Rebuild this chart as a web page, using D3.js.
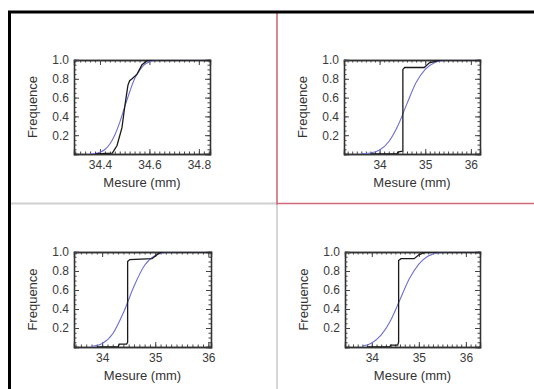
<!DOCTYPE html>
<html>
<head>
<meta charset="utf-8">
<script src="https://cdn.jsdelivr.net/npm/d3@7"></script>
<style>
  html, body { margin: 0; padding: 0; background: #fff; }
  svg text { font-family: "Liberation Sans", Arial, sans-serif; }
</style>
</head>
<body>
<div id="chart"></div>
<script>
// x domains of the four panels (mm)
const xDomains = [[34.295, 34.845], [33.22, 36.2], [33.47, 36.05], [33.43, 36.3]];
const xMajorTicks = [[34.4, 34.6, 34.8], [34, 35, 36], [34, 35, 36], [34, 35, 36]];
const xMinorSteps = [0.02, 0.1, 0.1, 0.1];
const xTickFormats = ['.1f', 'd', 'd', 'd'];
const yTicks = [0.2, 0.4, 0.6, 0.8, 1.0];

// empirical distribution (black)
const measured1 = [[34.38, 0], [34.45, 0.01], [34.469, 0.09], [34.489, 0.28], [34.50, 0.5], [34.513, 0.73],
  [34.52, 0.78], [34.53, 0.80], [34.55, 0.85], [34.57, 0.95], [34.59, 0.99], [34.61, 1], [34.845, 1]];
const measured2 = [[33.8, 0], [34.38, 0], [34.40, 0.02], [34.50, 0.03], [34.51, 0.03], [34.51, 0.90],
  [34.55, 0.92], [34.98, 0.92], [35.09, 0.97], [35.33, 1.0], [36.2, 1.0]];
const measured3 = [[33.9, 0], [34.30, 0], [34.32, 0.03], [34.46, 0.03], [34.48, 0.05], [34.48, 0.90],
  [34.52, 0.92], [34.94, 0.93], [35.05, 0.98], [35.13, 1.0], [36.05, 1.0]];
const measured4 = [[33.9, 0], [34.38, 0], [34.40, 0.02], [34.55, 0.02], [34.57, 0.05], [34.57, 0.91],
  [34.62, 0.93], [34.9, 0.93], [35.0, 0.97], [35.15, 1.0], [36.3, 1.0]];

// fitted distribution (blue)
const fitted1 = [[34.36, 0.002], [34.38, 0.006], [34.40, 0.019], [34.42, 0.048], [34.44, 0.106], [34.46, 0.202],
  [34.48, 0.337], [34.50, 0.50], [34.52, 0.66], [34.54, 0.80], [34.56, 0.89], [34.58, 0.95], [34.60, 0.98],
  [34.62, 0.994], [34.66, 1.0], [34.845, 1.0]];
const fitted2 = [[33.6, 0.002], [33.8, 0.01], [34.0, 0.042], [34.2, 0.13], [34.4, 0.30], [34.6, 0.536],
  [34.8, 0.76], [35.0, 0.90], [35.2, 0.97], [35.4, 0.994], [35.6, 0.999], [36.2, 1.0]];
const fitted3 = [[33.8, 0.006], [34.0, 0.037], [34.2, 0.14], [34.4, 0.36], [34.6, 0.64], [34.8, 0.86],
  [35.0, 0.963], [35.2, 0.994], [35.4, 0.999], [36.05, 1.0]];
const fitted4 = [[33.8, 0.011], [34.0, 0.043], [34.2, 0.127], [34.4, 0.28], [34.6, 0.50], [34.8, 0.72],
  [35.0, 0.873], [35.2, 0.957], [35.4, 0.989], [35.6, 0.998], [36.3, 1.0]];

const measured = [measured1, measured2, measured3, measured4];
const fitted = [fitted1, fitted2, fitted3, fitted4];

// plot boxes in page pixels
const boxes = [
  {x: 74, y: 60, w: 136, h: 94},
  {x: 344, y: 60, w: 136, h: 94},
  {x: 74, y: 252, w: 137, h: 95},
  {x: 345, y: 252, w: 135, h: 95}
];

const W = 534, H = 389;
const svg = d3.select('#chart').append('svg')
  .attr('width', W)
  .attr('height', H);

// cell dividers
svg.append('line').attr('x1', 10).attr('x2', 277).attr('y1', 203.5).attr('y2', 203.5)
  .attr('stroke', '#cfcfcf').attr('stroke-width', 2);
svg.append('line').attr('x1', 277).attr('x2', 277).attr('y1', 203).attr('y2', H)
  .attr('stroke', '#d6d6d6').attr('stroke-width', 2);
svg.append('line').attr('x1', 277).attr('x2', 277).attr('y1', 13).attr('y2', 204.5)
  .attr('stroke', '#d06a78').attr('stroke-width', 1.6);
svg.append('line').attr('x1', 277).attr('x2', W).attr('y1', 203.5).attr('y2', 203.5)
  .attr('stroke', '#d06a78').attr('stroke-width', 1.6);

// outer frame
svg.append('rect')
  .attr('x', 9.5).attr('y', 12)
  .attr('width', W + 10).attr('height', H + 10)
  .attr('fill', 'none')
  .attr('stroke', '#000')
  .attr('stroke-width', 3);

function minorValues(domain, step) {
  const out = [];
  const start = Math.ceil(domain[0] / step - 1e-9);
  const end = Math.floor(domain[1] / step + 1e-9);
  for (let i = start; i <= end; i++) out.push(+(i * step).toFixed(4));
  return out;
}

boxes.forEach((b, i) => {
  const g = svg.append('g').attr('transform', `translate(${b.x},${b.y})`);
  const x = d3.scaleLinear().domain(xDomains[i]).range([0, b.w]);
  const y = d3.scaleLinear().domain([0, 1]).range([b.h, 0]);

  const xMinor = minorValues(xDomains[i], xMinorSteps[i]);
  const yMinor = minorValues([0, 1], 0.05);

  // minor ticks on all sides
  g.append('g').attr('transform', `translate(0,${b.h})`)
    .call(d3.axisBottom(x).tickValues(xMinor).tickFormat('').tickSize(-2.5));
  g.append('g')
    .call(d3.axisTop(x).tickValues(xMinor).tickFormat('').tickSize(-2.5));
  g.append('g')
    .call(d3.axisLeft(y).tickValues(yMinor).tickFormat('').tickSize(-2.5));
  g.append('g').attr('transform', `translate(${b.w},0)`)
    .call(d3.axisRight(y).tickValues(yMinor).tickFormat('').tickSize(-2.5));

  // major ticks + labels
  g.append('g').attr('class', 'xaxis').attr('transform', `translate(0,${b.h})`)
    .call(d3.axisBottom(x).tickValues(xMajorTicks[i]).tickFormat(d3.format(xTickFormats[i]))
      .tickSize(-5).tickPadding(6));
  g.append('g')
    .call(d3.axisTop(x).tickValues(xMajorTicks[i]).tickFormat('').tickSize(-5));
  g.append('g').attr('class', 'yaxis')
    .call(d3.axisLeft(y).tickValues(yTicks).tickFormat(d3.format('.1f')).tickSize(-5).tickPadding(5));
  g.append('g').attr('transform', `translate(${b.w},0)`)
    .call(d3.axisRight(y).tickValues(yTicks).tickFormat('').tickSize(-5));

  g.selectAll('.domain').attr('stroke', '#333').attr('stroke-width', 1.3);
  g.selectAll('.tick line').attr('stroke', '#444');
  g.selectAll('.tick text').attr('font-size', 12).attr('fill', '#3a3a3a');

  // curves
  const clip = `clip${i}`;
  g.append('clipPath').attr('id', clip).append('rect')
    .attr('width', b.w).attr('height', b.h);

  const line = d3.line().x(d => x(d[0])).y(d => y(d[1]));
  g.append('path')
    .datum(fitted[i])
    .attr('clip-path', `url(#${clip})`)
    .attr('d', line.curve(d3.curveMonotoneX))
    .attr('fill', 'none')
    .attr('stroke', '#6e6ed2')
    .attr('stroke-width', 1.1);
  g.append('path')
    .datum(measured[i])
    .attr('clip-path', `url(#${clip})`)
    .attr('d', d3.line().x(d => x(d[0])).y(d => y(d[1])))
    .attr('fill', 'none')
    .attr('stroke', '#1a1a1a')
    .attr('stroke-width', 1.3);

  // axis titles
  g.append('text')
    .attr('x', b.w / 2)
    .attr('y', b.h + 33)
    .attr('text-anchor', 'middle')
    .attr('font-size', 13)
    .attr('fill', '#333')
    .text('Mesure (mm)');
  g.append('text')
    .attr('transform', `translate(-37,${b.h / 2}) rotate(-90)`)
    .attr('text-anchor', 'middle')
    .attr('font-size', 13)
    .attr('fill', '#333')
    .text('Frequence');
});
</script>
</body>
</html>
